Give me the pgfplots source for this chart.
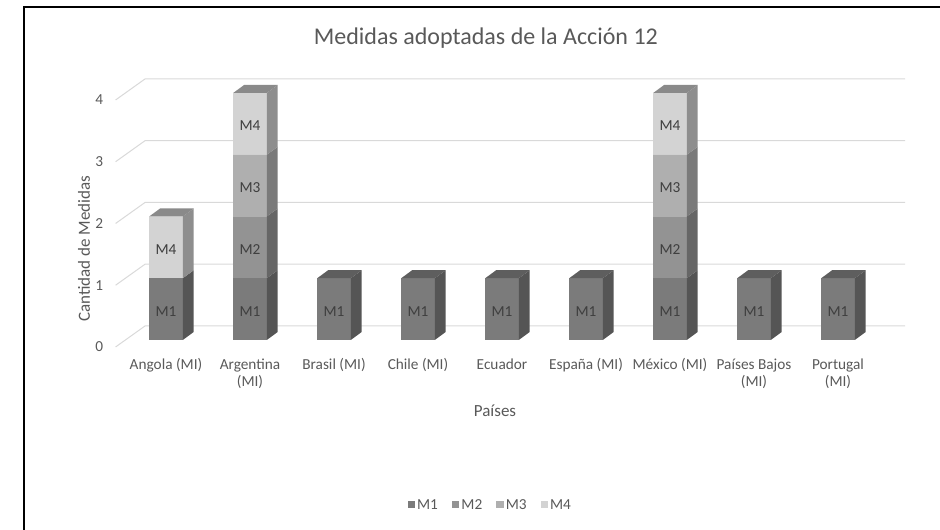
\documentclass[border=0pt]{standalone}
\usepackage{pgfplots}
\pgfplotsset{compat=1.18}
\usepackage{fontspec}
\setmainfont{Carlito}
\definecolor{txt}{HTML}{595959}
\definecolor{lbl}{HTML}{3F3F3F}
\definecolor{gridc}{HTML}{D9D9D9}
\definecolor{f1}{HTML}{7B7B7B}
\definecolor{f2}{HTML}{939393}
\definecolor{f3}{HTML}{AFAFAF}
\definecolor{f4}{HTML}{D3D3D3}
\definecolor{s1}{HTML}{555555}
\definecolor{s2}{HTML}{666666}
\definecolor{s3}{HTML}{7A7A7A}
\definecolor{s4}{HTML}{8E8E8E}
\definecolor{t1}{HTML}{5E5E5E}
\definecolor{t4}{HTML}{8A8A8A}
\newcommand\ticksz{\fontsize{15.3bp}{17.5bp}\selectfont}
\newcommand\labsz{\fontsize{17bp}{20bp}\selectfont}
\newcommand\titlesz{\fontsize{24bp}{28bp}\selectfont}
\pgfplotsset{common/.style={
  at={(115.6bp,190bp)}, anchor=south west,
  scale only axis, width=789.6bp, height=247bp,
  xmin=-0.6, xmax=8.8, ymin=0, ymax=4}}
\begin{document}
\begin{tikzpicture}[x=1bp,y=1bp]
\path[use as bounding box] (0,0) rectangle (940,530);
\draw[line width=2.2bp] (24,0) -- (24,523) -- (941,523);
% back wall gridlines
\begin{axis}[common, hide axis, clip=false]
\addplot[gridc, line width=1bp] coordinates {(-0.6,-0.113)(-0.25,0.227)(8.8,0.227)};
\addplot[gridc, line width=1bp] coordinates {(-0.6,0.887)(-0.25,1.227)(8.8,1.227)};
\addplot[gridc, line width=1bp] coordinates {(-0.6,1.887)(-0.25,2.227)(8.8,2.227)};
\addplot[gridc, line width=1bp] coordinates {(-0.6,2.887)(-0.25,3.227)(8.8,3.227)};
\addplot[gridc, line width=1bp] coordinates {(-0.6,3.887)(-0.25,4.227)(8.8,4.227)};
\end{axis}
\begin{axis}[
  common,
  ybar stacked, bar width=0.4,
  axis line style={draw=none},
  major tick length=0pt,
  ytick={0,1,2,3,4},
  xtick={0,...,8},
  xticklabels={Angola (MI), {Argentina\\(MI)}, Brasil (MI), Chile (MI), Ecuador, España (MI), México (MI), {Países Bajos\\(MI)}, {Portugal\\(MI)}},
  xticklabel style={align=center, font=\ticksz, text=txt, yshift=-15bp},
  yticklabel style={font=\ticksz, text=txt, xshift=-9bp, yshift=-7bp},
  /pgf/number format/assume math mode=true,
  xlabel={Países}, ylabel={Cantidad de Medidas},
  xlabel style={at={(axis description cs:0.4805,-0.287)}, anchor=center, font=\labsz, text=txt},
  ylabel style={at={(axis description cs:-0.04,0.37)}, anchor=center, font=\labsz, text=txt},
  title={Medidas adoptadas de la Acción 12},
  title style={at={(axis description cs:0.469,1.2)}, anchor=center, font=\titlesz, text=txt},
  legend style={at={(axis description cs:0.4745,-0.668)}, anchor=center, draw=none, fill=none,
    legend columns=-1, font=\ticksz, text=txt,
    /tikz/every even column/.append style={column sep=12bp}},
  legend image code/.code={\fill[#1] (0bp,-3.5bp) rectangle (7.5bp,4bp);},
  point meta=explicit symbolic,
  nodes near coords,
  every node near coord/.append style={anchor=center, yshift=-2bp, font=\ticksz, text=lbl},
  clip=false,
]
\addplot[fill=f1, draw=none] coordinates {(0,1)[M1] (1,1)[M1] (2,1)[M1] (3,1)[M1] (4,1)[M1] (5,1)[M1] (6,1)[M1] (7,1)[M1] (8,1)[M1]};
\addplot[fill=f2, draw=none] coordinates {(0,0)[{}] (1,1)[M2] (2,0)[{}] (3,0)[{}] (4,0)[{}] (5,0)[{}] (6,1)[M2] (7,0)[{}] (8,0)[{}]};
\addplot[fill=f3, draw=none] coordinates {(0,0)[{}] (1,1)[M3] (2,0)[{}] (3,0)[{}] (4,0)[{}] (5,0)[{}] (6,1)[M3] (7,0)[{}] (8,0)[{}]};
\addplot[fill=f4, draw=none] coordinates {(0,1)[M4] (1,1)[M4] (2,0)[{}] (3,0)[{}] (4,0)[{}] (5,0)[{}] (6,1)[M4] (7,0)[{}] (8,0)[{}]};
\legend{M1,M2,M3,M4}
\end{axis}
\begin{axis}[common, hide axis, clip=false]
% side faces M1
\addplot[fill=s1, draw=none] coordinates {(0.2,0)(0.33,0.13)(0.33,1.13)(0.2,1)};
\addplot[fill=s1, draw=none] coordinates {(1.2,0)(1.33,0.13)(1.33,1.13)(1.2,1)};
\addplot[fill=s1, draw=none] coordinates {(2.2,0)(2.33,0.13)(2.33,1.13)(2.2,1)};
\addplot[fill=s1, draw=none] coordinates {(3.2,0)(3.33,0.13)(3.33,1.13)(3.2,1)};
\addplot[fill=s1, draw=none] coordinates {(4.2,0)(4.33,0.13)(4.33,1.13)(4.2,1)};
\addplot[fill=s1, draw=none] coordinates {(5.2,0)(5.33,0.13)(5.33,1.13)(5.2,1)};
\addplot[fill=s1, draw=none] coordinates {(6.2,0)(6.33,0.13)(6.33,1.13)(6.2,1)};
\addplot[fill=s1, draw=none] coordinates {(7.2,0)(7.33,0.13)(7.33,1.13)(7.2,1)};
\addplot[fill=s1, draw=none] coordinates {(8.2,0)(8.33,0.13)(8.33,1.13)(8.2,1)};
% side faces M2
\addplot[fill=s2, draw=none] coordinates {(1.2,1)(1.33,1.13)(1.33,2.13)(1.2,2)};
\addplot[fill=s2, draw=none] coordinates {(6.2,1)(6.33,1.13)(6.33,2.13)(6.2,2)};
% side faces M3
\addplot[fill=s3, draw=none] coordinates {(1.2,2)(1.33,2.13)(1.33,3.13)(1.2,3)};
\addplot[fill=s3, draw=none] coordinates {(6.2,2)(6.33,2.13)(6.33,3.13)(6.2,3)};
% side faces M4
\addplot[fill=s4, draw=none] coordinates {(0.2,1)(0.33,1.13)(0.33,2.13)(0.2,2)};
\addplot[fill=s4, draw=none] coordinates {(1.2,3)(1.33,3.13)(1.33,4.13)(1.2,4)};
\addplot[fill=s4, draw=none] coordinates {(6.2,3)(6.33,3.13)(6.33,4.13)(6.2,4)};
% top faces
\addplot[fill=t4, draw=none] coordinates {(-0.2,2)(-0.07,2.13)(0.33,2.13)(0.2,2)};
\addplot[fill=t4, draw=none] coordinates {(0.8,4)(0.93,4.13)(1.33,4.13)(1.2,4)};
\addplot[fill=t4, draw=none] coordinates {(5.8,4)(5.93,4.13)(6.33,4.13)(6.2,4)};
\addplot[fill=t1, draw=none] coordinates {(1.8,1)(1.93,1.13)(2.33,1.13)(2.2,1)};
\addplot[fill=t1, draw=none] coordinates {(2.8,1)(2.93,1.13)(3.33,1.13)(3.2,1)};
\addplot[fill=t1, draw=none] coordinates {(3.8,1)(3.93,1.13)(4.33,1.13)(4.2,1)};
\addplot[fill=t1, draw=none] coordinates {(4.8,1)(4.93,1.13)(5.33,1.13)(5.2,1)};
\addplot[fill=t1, draw=none] coordinates {(6.8,1)(6.93,1.13)(7.33,1.13)(7.2,1)};
\addplot[fill=t1, draw=none] coordinates {(7.8,1)(7.93,1.13)(8.33,1.13)(8.2,1)};
\end{axis}
\end{tikzpicture}
\end{document}
